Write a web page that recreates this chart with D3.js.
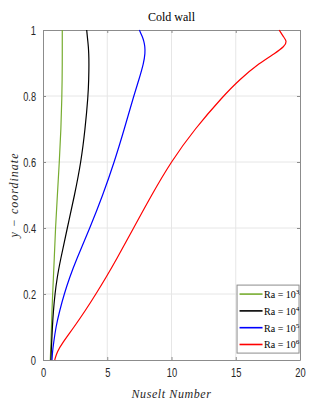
<!DOCTYPE html>
<html>
<head>
<meta charset="utf-8">
<script src="https://cdn.jsdelivr.net/npm/d3@7"></script>
<style>
  body { margin: 0; background: #fff; }
  svg { display: block; }
  .tick text { font-family: "Liberation Sans", sans-serif; fill: #262626; }
</style>
</head>
<body>
<div id="chart"></div>
<script>
// y-coordinate along the cold wall (shared by all series)
const yCoord = [0, 0.025, 0.05, 0.1, 0.15, 0.2, 0.25, 0.3, 0.4, 0.5, 0.6, 0.7, 0.8, 0.85, 0.9, 0.93, 0.95, 0.965, 0.98, 1.0];

// local Nusselt number for each Rayleigh number
const nuRa3 = [0.57, 0.59, 0.62, 0.66, 0.70, 0.75, 0.81, 0.87, 0.97, 1.12, 1.27, 1.40, 1.47, 1.49, 1.50, 1.50, 1.50, 1.50, 1.50, 1.50];
const nuRa4 = [0.62, 0.64, 0.67, 0.73, 0.81, 0.93, 1.10, 1.34, 1.89, 2.46, 2.96, 3.28, 3.51, 3.56, 3.58, 3.56, 3.53, 3.49, 3.45, 3.40];
const nuRa5 = [0.70, 0.74, 0.82, 1.00, 1.30, 1.65, 2.07, 2.55, 3.65, 4.66, 5.55, 6.33, 7.06, 7.47, 7.84, 7.95, 7.93, 7.86, 7.73, 7.50];
const nuRa6 = [0.91, 1.10, 1.48, 2.42, 3.30, 4.12, 4.90, 5.65, 7.05, 8.45, 9.95, 11.80, 14.03, 15.30, 16.85, 18.08, 18.78, 19.00, 18.70, 18.38];

const exponents = ["3", "4", "5", "6"];
const colors = ["#77AC30", "#000000", "#0000ff", "#ff0000"];
const seriesValues = [nuRa3, nuRa4, nuRa5, nuRa6];

const xTicks = [0, 5, 10, 15, 20];
const yTicks = [0, 0.2, 0.4, 0.6, 0.8, 1];

const width = 332, height = 405;
const margin = { top: 30, right: 32, bottom: 45, left: 43 };
const innerW = width - margin.left - margin.right;
const innerH = height - margin.top - margin.bottom;

const svg = d3.select("#chart")
  .append("svg")
  .attr("width", width)
  .attr("height", height);

const g = svg.append("g")
  .attr("transform", `translate(${margin.left},${margin.top})`);

const x = d3.scaleLinear().domain([0, 20]).range([0, innerW]);
const y = d3.scaleLinear().domain([0, 1]).range([innerH, 0]);

// grid
g.append("g")
  .selectAll("line")
  .data(xTicks.slice(1, -1))
  .join("line")
  .attr("x1", d => x(d)).attr("x2", d => x(d))
  .attr("y1", 0).attr("y2", innerH)
  .attr("stroke", "#e6e6e6").attr("stroke-width", 1);

g.append("g")
  .selectAll("line")
  .data(yTicks.slice(1, -1))
  .join("line")
  .attr("x1", 0).attr("x2", innerW)
  .attr("y1", d => y(d)).attr("y2", d => y(d))
  .attr("stroke", "#e6e6e6").attr("stroke-width", 1);

// axes (MATLAB style: inward ticks, box on)
const axisColor = "#8c8c8c";
const styleAxis = sel => {
  sel.select(".domain").attr("stroke", axisColor);
  sel.selectAll(".tick line").attr("stroke", axisColor);
  // tall, narrow digits like the original export
  sel.selectAll(".tick text")
    .attr("font-size", 13)
    .attr("lengthAdjust", "spacingAndGlyphs")
    .attr("textLength", function () {
      const s = this.textContent;
      return s.replace(".", "").length * 5.2 + (s.includes(".") ? 2.4 : 0);
    });
};

g.append("g")
  .attr("transform", `translate(0,${innerH})`)
  .call(d3.axisBottom(x).tickValues(xTicks).tickSize(-3).tickSizeOuter(0).tickPadding(8))
  .call(styleAxis);

g.append("g")
  .call(d3.axisLeft(y).tickValues(yTicks).tickSize(-3).tickSizeOuter(0).tickPadding(7)
    .tickFormat(d => d === 0 || d === 1 ? d3.format("d")(d) : d3.format(".1f")(d)))
  .call(styleAxis);

g.append("g")
  .call(d3.axisTop(x).tickValues(xTicks).tickSize(-3).tickSizeOuter(0).tickFormat(""))
  .call(styleAxis);

g.append("g")
  .attr("transform", `translate(${innerW},0)`)
  .call(d3.axisRight(y).tickValues(yTicks).tickSize(-3).tickSizeOuter(0).tickFormat(""))
  .call(styleAxis);

// curves: smooth B-spline through the sampled profile
const line = d3.line()
  .x(d => x(d[0]))
  .y(d => y(d[1]))
  .curve(d3.curveBasis);

seriesValues.forEach((vals, i) => {
  g.append("path")
    .datum(vals.map((v, j) => [v, yCoord[j]]))
    .attr("fill", "none")
    .attr("stroke", colors[i])
    .attr("stroke-width", 1.2)
    .attr("d", line);
});

// title and labels
svg.append("text")
  .attr("x", margin.left + innerW / 2)
  .attr("y", 21)
  .attr("text-anchor", "middle")
  .attr("font-family", "Liberation Serif, serif")
  .attr("font-size", 12)
  .attr("fill", "#000")
  .text("Cold wall");

svg.append("text")
  .attr("x", margin.left + innerW / 2)
  .attr("y", 398)
  .attr("text-anchor", "middle")
  .attr("font-family", "Liberation Serif, serif")
  .attr("font-style", "italic")
  .attr("font-size", 12)
  .attr("letter-spacing", 0.6)
  .attr("fill", "#262626")
  .text("Nuselt  Number");

svg.append("text")
  .attr("transform", `translate(18,${margin.top + innerH / 2}) rotate(-90)`)
  .attr("text-anchor", "middle")
  .attr("font-family", "Liberation Serif, serif")
  .attr("font-style", "italic")
  .attr("font-size", 12)
  .attr("letter-spacing", 1)
  .attr("fill", "#262626")
  .text("y − coordinate");

// legend
const legend = g.append("g")
  .attr("transform", `translate(${x(15.1)},${y(0.227)})`);

legend.append("rect")
  .attr("width", 62).attr("height", 68)
  .attr("fill", "#fff")
  .attr("stroke", "#8c8c8c")
  .attr("stroke-width", 1);

exponents.forEach((e, i) => {
  const row = legend.append("g").attr("transform", `translate(0,${9 + i * 16.8})`);
  row.append("line")
    .attr("x1", 2.5).attr("x2", 25.5)
    .attr("stroke", colors[i]).attr("stroke-width", 1.6);
  const t = row.append("text")
    .attr("x", 27).attr("y", 4)
    .attr("font-family", "Liberation Serif, serif")
    .attr("font-size", 10)
    .attr("fill", "#000");
  t.append("tspan").text("Ra = 10");
  t.append("tspan").attr("dy", -4).attr("font-size", 7).text(e);
});
</script>
</body>
</html>
